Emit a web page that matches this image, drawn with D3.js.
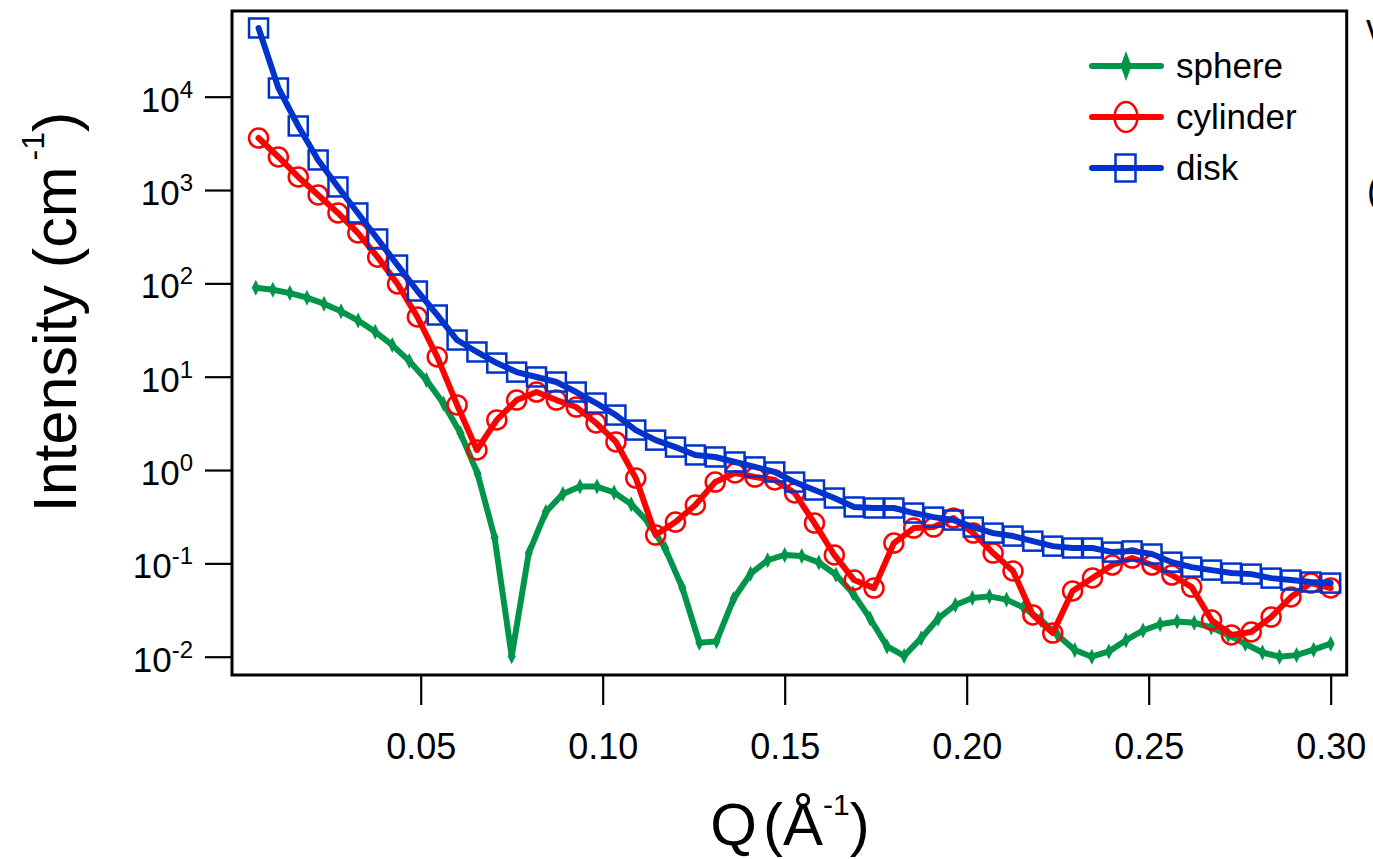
<!DOCTYPE html>
<html>
<head>
<meta charset="utf-8">
<script src="https://cdn.jsdelivr.net/npm/d3@7"></script>
<style>
  html, body { margin: 0; padding: 0; background: #fff; }
  svg { display: block; font-family: "Liberation Sans", Arial, Helvetica, sans-serif; }
</style>
</head>
<body>
<svg id="chart" width="1373" height="859"></svg>
<script>
// ---------------- data ----------------
const sphereQ = [0.0046875,0.009375,0.0140625,0.01875,0.0234375,0.028125,0.0328125,0.0375,0.0421875,0.046875,
  0.0515625,0.05625,0.0609375,0.065625,0.0703125,0.075,0.0796875,0.084375,0.0890625,0.09375,
  0.0984375,0.103125,0.1078125,0.1125,0.1171875,0.121875,0.1265625,0.13125,0.1359375,0.140625,
  0.1453125,0.15,0.1546875,0.159375,0.1640625,0.16875,0.1734375,0.178125,0.1828125,0.1875,
  0.1921875,0.196875,0.2015625,0.20625,0.2109375,0.215625,0.2203125,0.225,0.2296875,0.234375,
  0.2390625,0.24375,0.2484375,0.253125,0.2578125,0.2625,0.2671875,0.271875,0.2765625,0.28125,
  0.2859375,0.290625,0.2953125,0.3];
const sphereI = [89.5,85.3,78.6,70.2,60.5,50.1,39.9,30.3,21.8,14.7,
  9.2,5.16,2.48,0.914,0.189,0.0101,0.129,0.355,0.555,0.665,
  0.665,0.575,0.431,0.276,0.144,0.0548,0.0141,0.0146,0.0415,0.0774,
  0.108,0.123,0.120,0.102,0.0756,0.0479,0.0257,0.0129,0.0102,0.0158,
  0.0257,0.0358,0.0426,0.0443,0.0409,0.0336,0.0249,0.0170,0.0118,0.0100,
  0.0114,0.0150,0.0191,0.0223,0.0238,0.0231,0.0206,0.0171,0.0137,0.0111,
  0.0100,0.0104,0.0119,0.0138];

const rodQ = [0.00545,0.01091,0.01636,0.02182,0.02727,0.03273,0.03818,0.04364,0.04909,0.05455,
  0.06,0.06545,0.07091,0.07636,0.08182,0.08727,0.09273,0.09818,0.10364,0.10909,
  0.11455,0.12,0.12545,0.13091,0.13636,0.14182,0.14727,0.15273,0.15818,0.16364,
  0.16909,0.17455,0.18,0.18545,0.19091,0.19636,0.20182,0.20727,0.21273,0.21818,
  0.22364,0.22909,0.23455,0.24,0.24545,0.25091,0.25636,0.26182,0.26727,0.27273,
  0.27818,0.28364,0.28909,0.29455,0.3];
const cylinderI = [3606,2259,1380,885,568,347,191,98.4,43.6,16.3,
  4.98,1.64,3.44,5.62,6.85,5.62,4.73,3.19,2.0,0.82,
  0.201,0.277,0.422,0.743,0.929,0.841,0.782,0.568,0.27,0.123,
  0.0662,0.0543,0.165,0.239,0.245,0.306,0.211,0.129,0.0828,0.028,
  0.0179,0.0506,0.0697,0.096,0.114,0.096,0.075,0.0557,0.0247,0.0171,
  0.0184,0.0266,0.0436,0.0615,0.0545];
const diskI = [54450,12390,4853,2099,1079,568,299,157,82.8,45.8,
  24.7,18.4,14.0,11.2,9.93,8.77,6.85,5.22,3.88,2.68,
  2.09,1.76,1.45,1.38,1.22,1.08,0.953,0.743,0.611,0.501,
  0.402,0.392,0.392,0.346,0.313,0.291,0.245,0.211,0.196,0.173,
  0.153,0.146,0.146,0.132,0.136,0.126,0.103,0.0912,0.0847,0.0787,
  0.0767,0.0695,0.0662,0.0631,0.0615];

const seriesNames = ["sphere", "cylinder", "disk"];
const xTicks = [0.05, 0.10, 0.15, 0.20, 0.25, 0.30];
const yTickExps = [-2, -1, 0, 1, 2, 3, 4];

// ---------------- layout ----------------
const svg = d3.select("#chart");
const L = 232, R = 1346.7, T = 11, B = 675;
const COLORS = { sphere: "#00954a", cylinder: "#ff0000", disk: "#0033cc" };

const x = d3.scaleLinear().domain([-0.00184, 0.3044]).range([L, R]);
const y = d3.scaleLog().domain([Math.pow(10, -2.196), Math.pow(10, 4.918)]).range([B, T]);

// axes
const xAxis = d3.axisBottom(x).tickValues(xTicks).tickSize(30).tickPadding(28)
  .tickFormat(d3.format(".2f"));
const gx = svg.append("g").attr("transform", `translate(0,${B})`).call(xAxis);
gx.select(".domain").remove();
gx.selectAll(".tick line").attr("stroke", "#000").attr("stroke-width", 2.2);
gx.selectAll(".tick text").attr("font-size", 36).attr("fill", "#000")
  .attr("font-family", "Liberation Sans, Arial, sans-serif");

const yAxis = d3.axisLeft(y).tickValues(yTickExps.map(e => Math.pow(10, e))).tickSize(27).tickFormat("");
const gy = svg.append("g").attr("transform", `translate(${L},0)`).call(yAxis);
gy.select(".domain").remove();
gy.selectAll(".tick line").attr("stroke", "#000").attr("stroke-width", 2.2);

const yl = svg.append("g");
yTickExps.forEach(e => {
  const yy = y(Math.pow(10, e));
  const t = yl.append("text").attr("x", 193).attr("y", yy + 15)
    .attr("text-anchor", "end").attr("font-size", 35).attr("fill", "#000");
  t.append("tspan").text("10");
  t.append("tspan").attr("dy", -14).attr("font-size", 24).text(String(e));
});

// frame
svg.append("rect").attr("x", L).attr("y", T).attr("width", R - L).attr("height", B - T)
  .attr("fill", "none").attr("stroke", "#000").attr("stroke-width", 3);

// clip
svg.append("clipPath").attr("id", "plotclip").append("rect")
  .attr("x", L).attr("y", T).attr("width", R - L).attr("height", B - T);
const plot = svg.append("g").attr("clip-path", "url(#plotclip)");

const line = d3.line().x(d => x(d[0])).y(d => y(d[1])).curve(d3.curveLinear);

function diamondPath(w, h) {
  return `M0,${-h/2}L${w/2},0L0,${h/2}L${-w/2},0Z`;
}

// sphere
const sphereData = sphereQ.map((q, i) => [q, sphereI[i]]);
plot.append("path").datum(sphereData).attr("d", line).attr("fill", "none")
  .attr("stroke", COLORS.sphere).attr("stroke-width", 6).attr("stroke-linejoin", "round").attr("stroke-linecap", "round");
plot.selectAll(".sm").data(sphereData).enter().append("path").attr("class", "sm")
  .attr("transform", d => `translate(${x(d[0])},${y(d[1])})`)
  .attr("d", diamondPath(8, 16)).attr("fill", COLORS.sphere);

// cylinder
const cylData = rodQ.map((q, i) => [q, cylinderI[i]]);
plot.append("path").datum(cylData).attr("d", line).attr("fill", "none")
  .attr("stroke", COLORS.cylinder).attr("stroke-width", 6).attr("stroke-linejoin", "round").attr("stroke-linecap", "round");
plot.selectAll(".cm").data(cylData).enter().append("circle").attr("class", "cm")
  .attr("cx", d => x(d[0])).attr("cy", d => y(d[1])).attr("r", 9.5)
  .attr("fill", "none").attr("stroke", COLORS.cylinder).attr("stroke-width", 2.5);

// disk
const diskData = rodQ.map((q, i) => [q, diskI[i]]);
plot.append("path").datum(diskData).attr("d", line).attr("fill", "none")
  .attr("stroke", COLORS.disk).attr("stroke-width", 6).attr("stroke-linejoin", "round").attr("stroke-linecap", "round");
plot.selectAll(".dm").data(diskData).enter().append("rect").attr("class", "dm")
  .attr("x", d => x(d[0]) - 9.5).attr("y", d => y(d[1]) - 9.5).attr("width", 19).attr("height", 19)
  .attr("fill", "none").attr("stroke", COLORS.disk).attr("stroke-width", 2.5);

// legend
const legendY = [66, 117, 168];
seriesNames.forEach((name, i) => {
  const g = svg.append("g").attr("transform", `translate(0,${legendY[i]})`);
  g.append("line").attr("x1", 1092).attr("x2", 1161).attr("y1", 0).attr("y2", 0)
    .attr("stroke", COLORS[name]).attr("stroke-width", 6).attr("stroke-linecap", "round");
  if (name === "sphere") {
    g.append("path").attr("transform", "translate(1126,0)").attr("d", diamondPath(11, 30)).attr("fill", COLORS[name]);
  } else if (name === "cylinder") {
    g.append("ellipse").attr("cx", 1126).attr("cy", 0).attr("rx", 11.5).attr("ry", 15)
      .attr("fill", "none").attr("stroke", COLORS[name]).attr("stroke-width", 2.5);
  } else {
    g.append("rect").attr("x", 1115.5).attr("y", -13.5).attr("width", 20).attr("height", 27)
      .attr("fill", "none").attr("stroke", COLORS[name]).attr("stroke-width", 2.5);
  }
  g.append("text").attr("x", 1176).attr("y", 12).attr("font-size", 35).attr("fill", "#000").text(name);
});

// axis titles
const xt = svg.append("text").attr("x", 790).attr("y", 845).attr("text-anchor", "middle")
  .attr("font-size", 60).attr("fill", "#000");
xt.append("tspan").text("Q");
xt.append("tspan").attr("dx", 6).text("(Å");
xt.append("tspan").attr("dy", -30).attr("font-size", 30).text("-1");
xt.append("tspan").attr("dy", 30).text(")");

const yt = svg.append("text").attr("transform", "translate(76,312) rotate(-90)").attr("text-anchor", "middle")
  .attr("font-size", 61).attr("fill", "#000");
yt.append("tspan").text("Intensity (cm");
yt.append("tspan").attr("dy", -32).attr("dx", 6).attr("font-size", 32).text("-1");
yt.append("tspan").attr("dy", 32).text(")");

// fragments of neighbouring text at the right edge
svg.append("text").attr("x", 1366).attr("y", 40).attr("font-size", 36).attr("fill", "#000").text("v");
svg.append("text").attr("x", 1367).attr("y", 203).attr("font-size", 36).attr("fill", "#000").text("(");
</script>
</body>
</html>
